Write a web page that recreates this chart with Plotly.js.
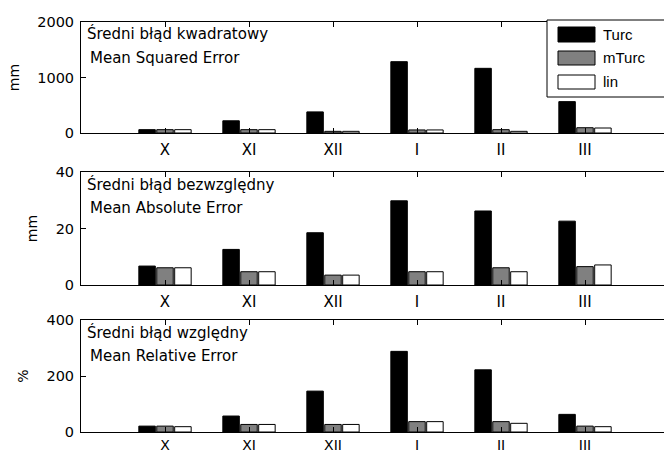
<!DOCTYPE html>
<html>
<head>
<meta charset="utf-8">
<script src="https://cdn.plot.ly/plotly-3.0.1.min.js"></script>
<style>
html,body{margin:0;padding:0;overflow:hidden;background:#fff;}
#chart{width:700px;height:457px;}
</style>
</head>
<body>
<div id="chart"></div>
<script>
// ---- data ----
const months = ['X', 'XI', 'XII', 'I', 'II', 'III'];
const seriesNames = ['Turc', 'mTurc', 'lin'];

const mseTurc  = [60, 220, 380, 1285, 1165, 565];
const mseMTurc = [60, 60, 30, 55, 60, 95];
const mseLin   = [60, 60, 30, 55, 30, 90];

const maeTurc  = [6.7, 12.6, 18.5, 29.8, 26.2, 22.6];
const maeMTurc = [6.1, 4.7, 3.5, 4.7, 6.1, 6.5];
const maeLin   = [6.1, 4.7, 3.5, 4.7, 4.7, 7.1];

const mreTurc  = [21, 57, 146, 288, 222, 63];
const mreMTurc = [21, 27, 27, 37, 37, 21];
const mreLin   = [19, 27, 27, 37, 31, 19];

const titlesPL = ['Średni błąd kwadratowy', 'Średni błąd bezwzględny', 'Średni błąd względny'];
const titlesEN = ['Mean Squared Error', 'Mean Absolute Error', 'Mean Relative Error'];
const yUnits = ['mm', 'mm', '%'];
const yMax = [2000, 40, 400];
const yStep = [1000, 20, 200];

// ---- styling ----
const W = 700, H = 457, L = 81, R = 31;
const PW = W - L - R;
const colors = ['#000000', '#808080', '#ffffff'];
const panelsPx = [[22, 133], [172, 285], [320, 432]]; // top, bottom in px
const px2x = p => (p - L) / PW;
const px2y = p => 1 - p / H;

const panelData = [
  [mseTurc, mseMTurc, mseLin],
  [maeTurc, maeMTurc, maeLin],
  [mreTurc, mreMTurc, mreLin]
];

const traces = [];
const layout = {
  width: W, height: H,
  margin: {l: L, r: R, t: 0, b: 0},
  paper_bgcolor: '#fff', plot_bgcolor: '#fff',
  font: {family: 'DejaVu Sans, Arial, sans-serif', size: 15, color: '#000'},
  barmode: 'group', bargap: 0.36, bargroupgap: 0.08,
  showlegend: false,
  annotations: [], shapes: []
};

panelData.forEach((sets, p) => {
  const xa = p === 0 ? 'x' : 'x' + (p + 1);
  const ya = p === 0 ? 'y' : 'y' + (p + 1);
  sets.forEach((vals, s) => {
    traces.push({
      type: 'bar', x: months, y: vals, name: seriesNames[s],
      xaxis: xa, yaxis: ya,
      marker: {color: colors[s], line: {color: '#000', width: 1}},
      hoverinfo: 'none'
    });
  });
  const [top, bot] = panelsPx[p];
  const axSuffix = p === 0 ? '' : String(p + 1);
  layout['xaxis' + axSuffix] = {
    anchor: ya, domain: [0, 1],
    type: 'category', categoryorder: 'array', categoryarray: months,
    range: [-1, 6], fixedrange: true,
    showline: true, linecolor: '#000', linewidth: 1, mirror: 'ticks',
    ticks: 'inside', ticklen: 5, tickcolor: '#000', tickwidth: 1,
    showgrid: false, zeroline: false,
    ticklabelstandoff: p === 2 ? 0 : 3,
    tickfont: {size: p === 2 ? 14 : 15}
  };
  layout['yaxis' + axSuffix] = {
    anchor: xa, domain: [px2y(bot), px2y(top)],
    range: [0, yMax[p]], dtick: yStep[p], tick0: 0,
    showline: true, linecolor: '#000', linewidth: 1, mirror: 'ticks',
    ticks: 'inside', ticklen: 5, tickcolor: '#000', tickwidth: 1,
    showgrid: false, zeroline: false,
    ticklabelstandoff: 3,
    tickfont: {size: 14.5},
    title: {text: yUnits[p], font: {size: 14}, standoff: 14}
  };
  layout.annotations.push({
    xref: 'paper', yref: 'paper', x: px2x(86), y: px2y(top + 12),
    xanchor: 'left', yanchor: 'middle', showarrow: false, borderpad: 0,
    text: titlesPL[p], font: {size: 15}
  });
  layout.annotations.push({
    xref: 'paper', yref: 'paper', x: px2x(89), y: px2y(top + 36),
    xanchor: 'left', yanchor: 'middle', showarrow: false, borderpad: 0,
    text: titlesEN[p], font: {size: 15}
  });
});

// ---- custom legend (matching the boxed MATLAB legend) ----
layout.shapes.push({
  type: 'rect', xref: 'paper', yref: 'paper', layer: 'above',
  x0: px2x(547), x1: px2x(700), y0: px2y(97), y1: px2y(20),
  fillcolor: '#fff', line: {color: '#000', width: 1}
});
const rowsPx = [[27, 42], [51, 65], [75, 89]];
seriesNames.forEach((nm, i) => {
  const [a, b] = rowsPx[i];
  layout.shapes.push({
    type: 'rect', xref: 'paper', yref: 'paper', layer: 'above',
    x0: px2x(558), x1: px2x(595), y0: px2y(b), y1: px2y(a),
    fillcolor: colors[i], line: {color: '#000', width: 1}
  });
  layout.annotations.push({
    xref: 'paper', yref: 'paper', x: px2x(602), y: px2y((a + b) / 2),
    xanchor: 'left', yanchor: 'middle', showarrow: false, borderpad: 0,
    text: nm, font: {family: 'Liberation Sans Narrow, Arial Narrow, Liberation Sans, sans-serif', size: 15}
  });
});

Plotly.newPlot('chart', traces, layout, {staticPlot: true, displayModeBar: false});
</script>
</body>
</html>
